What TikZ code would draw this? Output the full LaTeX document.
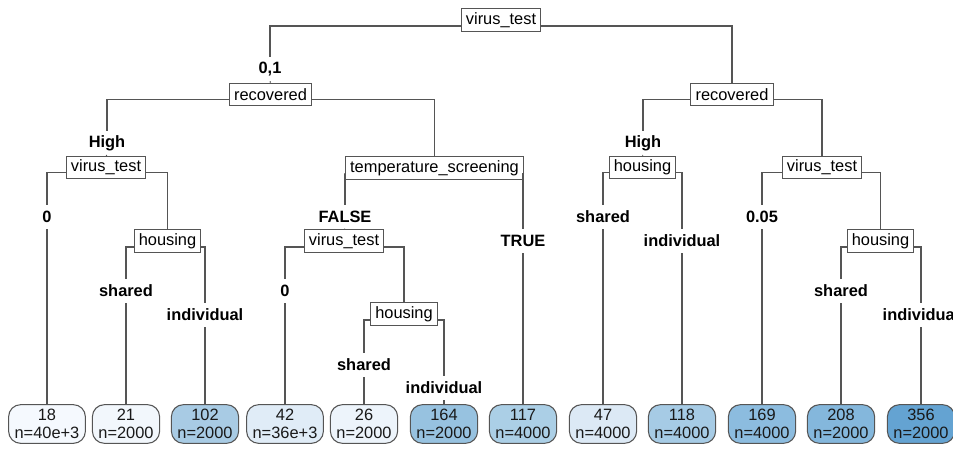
\documentclass[tikz,border=0pt]{standalone}
\usepackage{fontspec}
\setmainfont{Liberation Sans}
\usepackage{tikz}
\usetikzlibrary{shapes,arrows}

\definecolor{edgegray}{HTML}{555555}
\definecolor{leafA}{HTML}{F5F9FE}
\definecolor{leafB}{HTML}{F2F7FC}
\definecolor{leafC}{HTML}{A8CBE4}
\definecolor{leafD}{HTML}{E0ECF7}
\definecolor{leafE}{HTML}{EDF4FB}
\definecolor{leafF}{HTML}{97C2E0}
\definecolor{leafG}{HTML}{ABCFE6}
\definecolor{leafH}{HTML}{DCE9F5}
\definecolor{leafI}{HTML}{A6CBE5}
\definecolor{leafJ}{HTML}{8CBCDF}
\definecolor{leafK}{HTML}{84B7DC}
\definecolor{leafL}{HTML}{64A3D2}

\begin{document}
\begin{tikzpicture}
		[
		x = 0.75pt, y = -0.75pt,
		split/.style = {draw = edgegray, line width = 0.8pt, fill = white, inner xsep = 3.5pt, inner ysep = 0pt, minimum height = 17pt, font = \fontsize{12.3}{14}\selectfont},
		leaf/.style = {draw = edgegray, line width = 0.8pt, rounded corners = 9pt, align = center, inner xsep = 4.5pt, inner ysep = 0pt, minimum height = 29pt, text = black!90, font = \fontsize{12.3}{13.5}\selectfont},
		lab/.style = {inner sep = 0pt, minimum height = 18pt, font = \fontsize{12.3}{14}\selectfont\bfseries},
		link/.style = {draw = edgegray, line width = 0.8pt}
		]
		
		\useasboundingbox (0,0) rectangle (953,449);
		
		\node [split] (root) at (501,20) {virus\_test};
		\node [lab] (l01) at (270,69) {0,1};
		\node [split] (recL) at (270.5,94.5) {recovered};
		\node [split] (recR) at (732,94.5) {recovered};
		
		\node [lab] (lHighL) at (107,143) {High};
		\node [split] (virL) at (106,167.5) {virus\_test};
		\node [split] (temp) at (434.5,168) {temperature\_screening};
		\node [lab] (lHighR) at (643,143) {High};
		\node [split] (housR) at (642.5,167.5) {housing};
		\node [split] (virR) at (822,167.5) {virus\_test};
		
		\node [lab] (l0a) at (47,217) {0};
		\node [split] (housL) at (167.5,241) {housing};
		\node [lab] (lFalse) at (345,217) {FALSE};
		\node [split] (virM) at (344,241) {virus\_test};
		\node [lab] (lTrue) at (523,241) {TRUE};
		\node [lab] (lSharedR) at (603,217) {shared};
		\node [lab] (lIndivR) at (682,241) {individual};
		\node [lab] (l005) at (762,217) {0.05};
		\node [split] (housRR) at (880.5,241) {housing};
		
		\node [lab] (lSharedL) at (126,291) {shared};
		\node [lab] (lIndivL) at (205,315) {individual};
		\node [lab] (l0b) at (285,291) {0};
		\node [split] (housM) at (404,314) {housing};
		\node [lab] (lSharedM) at (364,365) {shared};
		\node [lab] (lIndivM) at (444,388) {individual};
		\node [lab] (lSharedRR) at (841,291) {shared};
		\node [lab] (lIndivRR) at (921,315) {individual};
		
		\node [leaf, fill = leafA] (n18) at (47,424) {18\\n=40e+3};
		\node [leaf, fill = leafB] (n21) at (126,424) {21\\n=2000};
		\node [leaf, fill = leafC] (n102) at (205,424) {102\\n=2000};
		\node [leaf, fill = leafD] (n42) at (285,424) {42\\n=36e+3};
		\node [leaf, fill = leafE] (n26) at (364,424) {26\\n=2000};
		\node [leaf, fill = leafF] (n164) at (444,424) {164\\n=2000};
		\node [leaf, fill = leafG] (n117) at (523,424) {117\\n=4000};
		\node [leaf, fill = leafH] (n47) at (603,424) {47\\n=4000};
		\node [leaf, fill = leafI] (n118) at (682,424) {118\\n=4000};
		\node [leaf, fill = leafJ] (n169) at (762,424) {169\\n=4000};
		\node [leaf, fill = leafK] (n208) at (841,424) {208\\n=2000};
		\node [leaf, fill = leafL] (n356) at (921,424) {356\\n=2000};
		
		\draw [link] ([yshift=-4.5pt]root.west) -| (l01.north);
		\draw [link] (l01.south) -- (recL.north);
		\draw [link] ([yshift=-4.5pt]root.east) -| (recR.north);
		
		\draw [link] ([yshift=-3.5pt]recL.west) -| (lHighL.north);
		\draw [link] (lHighL.south) -- (virL.north);
		\draw [link] ([yshift=-3.5pt]recL.east) -| (temp.north);
		\draw [link] ([yshift=-3.5pt]recR.west) -| (lHighR.north);
		\draw [link] (lHighR.south) -- (housR.north);
		\draw [link] ([yshift=-3.5pt]recR.east) -| (virR.north);
		
		\draw [link] ([yshift=-4pt]virL.west) -| (l0a.north);
		\draw [link] (l0a.south) -- (n18.north);
		\draw [link] ([yshift=-4pt]virL.east) -| (housL.north);
		\draw [link] ([yshift=-4pt]temp.west) -| (lFalse.north);
		\draw [link] (lFalse.south) -- (virM.north);
		\draw [link] ([yshift=-4pt]temp.east) -| (lTrue.north);
		\draw [link] (lTrue.south) -- (n117.north);
		\draw [link] ([yshift=-4pt]housR.west) -| (lSharedR.north);
		\draw [link] (lSharedR.south) -- (n47.north);
		\draw [link] ([yshift=-4pt]housR.east) -| (lIndivR.north);
		\draw [link] (lIndivR.south) -- (n118.north);
		\draw [link] ([yshift=-4pt]virR.west) -| (l005.north);
		\draw [link] (l005.south) -- (n169.north);
		\draw [link] ([yshift=-4pt]virR.east) -| (housRR.north);
		
		\draw [link] ([yshift=-4.5pt]housL.west) -| (lSharedL.north);
		\draw [link] (lSharedL.south) -- (n21.north);
		\draw [link] ([yshift=-4.5pt]housL.east) -| (lIndivL.north);
		\draw [link] (lIndivL.south) -- (n102.north);
		\draw [link] ([yshift=-4.5pt]virM.west) -| (l0b.north);
		\draw [link] (l0b.south) -- (n42.north);
		\draw [link] ([yshift=-4.5pt]virM.east) -| (housM.north);
		\draw [link] ([yshift=-4.5pt]housM.west) -| (lSharedM.north);
		\draw [link] (lSharedM.south) -- (n26.north);
		\draw [link] ([yshift=-4.5pt]housM.east) -| (lIndivM.north);
		\draw [link] (lIndivM.south) -- (n164.north);
		\draw [link] ([yshift=-4.5pt]housRR.west) -| (lSharedRR.north);
		\draw [link] (lSharedRR.south) -- (n208.north);
		\draw [link] ([yshift=-4.5pt]housRR.east) -| (lIndivRR.north);
		\draw [link] (lIndivRR.south) -- (n356.north);
		
\end{tikzpicture}
\end{document}
